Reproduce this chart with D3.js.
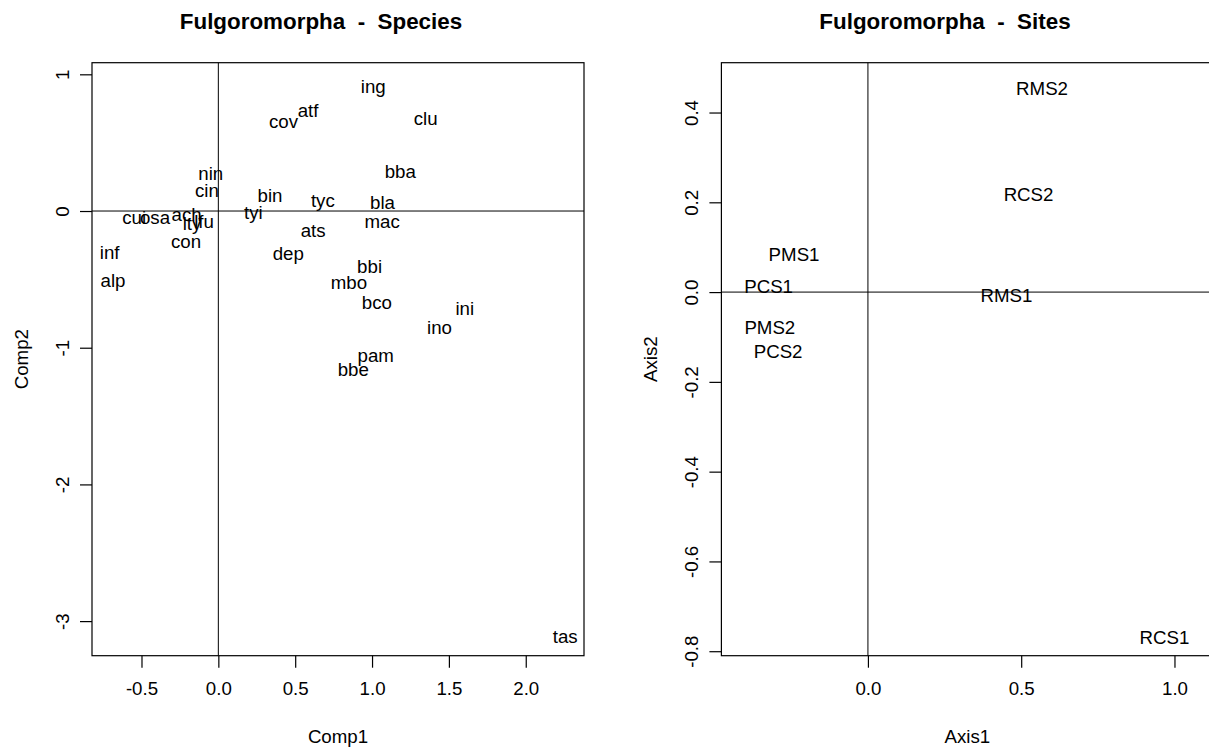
<!DOCTYPE html>
<html>
<head>
<meta charset="utf-8">
<script src="https://cdn.jsdelivr.net/npm/d3@7.9.0/dist/d3.min.js"></script>
<style>
  body { margin: 0; background: #fff; }
  svg { display: block; font-family: "Liberation Sans", Arial, sans-serif; }
  .title { white-space: pre; }
</style>
</head>
<body>
<svg id="chart" width="1209" height="747"></svg>
<script>
// species scores (Comp1, Comp2)
const speciesNames = ['ing', 'atf', 'cov', 'clu', 'nin', 'bba', 'cin', 'bin', 'tyc', 'bla',
  'tyi', 'cui', 'osa', 'ach', 'lty', 'lfu', 'mac', 'ats', 'con', 'inf',
  'dep', 'bbi', 'alp', 'mbo', 'bco', 'ini', 'ino', 'pam', 'bbe', 'tas'];
const speciesComp1 = [1.008, 0.584, 0.424, 1.349, -0.049, 1.184, -0.074, 0.336, 0.680, 1.068,
  0.228, -0.548, -0.412, -0.206, -0.171, -0.093, 1.066, 0.617, -0.210, -0.707,
  0.455, 0.984, -0.685, 0.850, 1.031, 1.603, 1.439, 1.024, 0.878, 2.257];
const speciesComp2 = [0.909, 0.737, 0.653, 0.677, 0.274, 0.287, 0.148, 0.116, 0.079, 0.062,
  -0.013, -0.048, -0.048, -0.022, -0.091, -0.077, -0.075, -0.140, -0.218, -0.304,
  -0.306, -0.404, -0.505, -0.525, -0.669, -0.713, -0.852, -1.055, -1.159, -3.110];

// site scores (Axis1, Axis2)
const siteNames = ['RMS2', 'RCS2', 'PMS1', 'PCS1', 'RMS1', 'PMS2', 'PCS2', 'RCS1'];
const siteAxis1 = [0.568, 0.524, -0.241, -0.324, 0.452, -0.320, -0.293, 0.967];
const siteAxis2 = [0.454, 0.218, 0.084, 0.012, -0.008, -0.079, -0.133, -0.768];

const speciesXTicks = [-0.5, 0, 0.5, 1, 1.5, 2];
const speciesYTicks = [1, 0, -1, -2, -3];
const siteXTicks = [0, 0.5, 1];
const siteYTicks = [0.4, 0.2, 0, -0.2, -0.4, -0.6, -0.8];

const svg = d3.select('#chart');
const fontSize = 18.7;
const hyphen = f => v => f(v).replace('\u2212', '-');

function drawPanel(opt) {
  const { left, top, width, height } = opt;
  const x = d3.scaleLinear().domain(opt.xDomain).range([left, left + width]);
  const y = d3.scaleLinear().domain(opt.yDomain).range([top + height, top]);
  const g = svg.append('g');

  // reference lines through the origin
  g.append('line')
    .attr('x1', left).attr('x2', left + width)
    .attr('y1', y(0)).attr('y2', y(0))
    .attr('stroke', '#000').attr('stroke-width', 1);
  g.append('line')
    .attr('x1', x(0)).attr('x2', x(0))
    .attr('y1', top).attr('y2', top + height)
    .attr('stroke', '#000').attr('stroke-width', 1);

  // labels
  g.selectAll('text.lab')
    .data(opt.names.map((n, i) => ({ n, a: opt.xs[i], b: opt.ys[i] })))
    .join('text')
    .attr('class', 'lab')
    .attr('x', d => x(d.a))
    .attr('y', d => y(d.b))
    .attr('dy', '0.358em')
    .attr('text-anchor', 'middle')
    .attr('font-size', fontSize)
    .attr('fill', '#000')
    .text(d => d.n);

  // box
  g.append('rect')
    .attr('x', left).attr('y', top)
    .attr('width', width).attr('height', height)
    .attr('fill', 'none').attr('stroke', '#000').attr('stroke-width', 1.2);

  const xAxis = d3.axisBottom(x).tickValues(opt.xTicks).tickFormat(opt.xFormat)
    .tickSize(12).tickSizeOuter(0).tickPadding(14);
  g.append('g')
    .attr('transform', `translate(0,${top + height})`)
    .call(xAxis)
    .call(a => a.select('.domain').remove())
    .call(a => a.selectAll('line').attr('stroke-width', 1.2))
    .call(a => a.selectAll('text').attr('font-size', fontSize).attr('font-family', null));

  const yAxis = d3.axisLeft(y).tickValues(opt.yTicks).tickFormat(opt.yFormat)
    .tickSize(12).tickSizeOuter(0);
  g.append('g')
    .attr('transform', `translate(${left},0)`)
    .call(yAxis)
    .call(a => a.select('.domain').remove())
    .call(a => a.selectAll('line').attr('stroke-width', 1.2))
    .call(a => a.selectAll('text')
      .attr('font-size', fontSize).attr('font-family', null)
      .attr('transform', 'rotate(-90)')
      .attr('x', 0).attr('y', -23).attr('dy', 0)
      .attr('text-anchor', 'middle'));

  // titles
  svg.append('text')
    .attr('class', 'title')
    .attr('x', opt.titleX).attr('y', 28.5)
    .attr('text-anchor', 'middle')
    .attr('font-size', 22.4).attr('font-weight', 'bold')
    .text(opt.title);
  svg.append('text')
    .attr('x', left + width / 2).attr('y', 743)
    .attr('text-anchor', 'middle')
    .attr('font-size', fontSize)
    .text(opt.xLabel);
  svg.append('text')
    .attr('transform', `translate(${left - 64},${top + height / 2}) rotate(-90)`)
    .attr('text-anchor', 'middle')
    .attr('font-size', fontSize)
    .text(opt.yLabel);
}

drawPanel({
  left: 92, top: 62.7, width: 492, height: 593,
  xDomain: [-0.822, 2.379], yDomain: [-3.253, 1.085],
  names: speciesNames, xs: speciesComp1, ys: speciesComp2,
  xTicks: speciesXTicks, yTicks: speciesYTicks,
  xFormat: hyphen(d3.format('.1f')), yFormat: hyphen(d3.format('d')),
  title: 'Fulgoromorpha  -  Species', titleX: 321,
  xLabel: 'Comp1', yLabel: 'Comp2'
});

drawPanel({
  left: 721.4, top: 62.7, width: 492, height: 593,
  xDomain: [-0.478, 1.127], yDomain: [-0.810, 0.511],
  names: siteNames, xs: siteAxis1, ys: siteAxis2,
  xTicks: siteXTicks, yTicks: siteYTicks,
  xFormat: hyphen(d3.format('.1f')), yFormat: hyphen(d3.format('.1f')),
  title: 'Fulgoromorpha  -  Sites', titleX: 945,
  xLabel: 'Axis1', yLabel: 'Axis2'
});
</script>
</body>
</html>
